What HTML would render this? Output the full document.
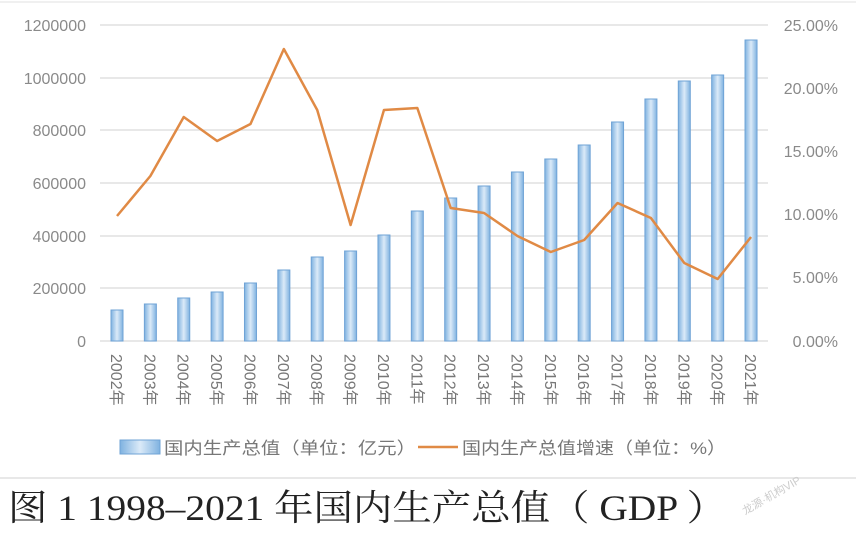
<!DOCTYPE html>
<html><head><meta charset="utf-8"><style>
body{margin:0;background:#fff;width:856px;height:528px;overflow:hidden}
</style></head><body>
<svg width="856" height="528" xmlns="http://www.w3.org/2000/svg" font-family="Liberation Sans, Noto Sans CJK SC, sans-serif">
<defs><linearGradient id="g" x1="0" x2="1"><stop offset="0" stop-color="#7fb2e0"/><stop offset="0.5" stop-color="#dbeaf8"/><stop offset="1" stop-color="#7fb2e0"/></linearGradient></defs>
<line x1="0" y1="2" x2="856" y2="2" stroke="#e0e0e0"/>
<g stroke="#d9d9d9" stroke-width="1.2">
<line x1="100" y1="25" x2="768" y2="25"/><line x1="100" y1="78" x2="768" y2="78"/><line x1="100" y1="130" x2="768" y2="130"/><line x1="100" y1="183" x2="768" y2="183"/><line x1="100" y1="236" x2="768" y2="236"/><line x1="100" y1="288" x2="768" y2="288"/><line x1="100" y1="341" x2="768" y2="341"/>
</g>
<g fill="#8a8a8a" font-size="16" text-anchor="end">
<text x="86" y="31">1200000</text><text x="86" y="84">1000000</text><text x="86" y="136">800000</text><text x="86" y="189">600000</text><text x="86" y="242">400000</text><text x="86" y="294">200000</text><text x="86" y="347">0</text>
</g>
<g fill="#8a8a8a" font-size="16" text-anchor="end">
<text x="838" y="31">25.00%</text><text x="838" y="94">20.00%</text><text x="838" y="157">15.00%</text><text x="838" y="220">10.00%</text><text x="838" y="283">5.00%</text><text x="838" y="347">0.00%</text>
</g>
<g id="bars" fill="url(#g)" stroke="#6fa3d6" stroke-width="1"></g>
<polyline id="ln" fill="none" stroke="#e08a45" stroke-width="2.5" stroke-linejoin="round"/>
<g id="yrs" fill="#777" font-size="16"></g>
<rect x="120" y="440" width="40" height="14" fill="url(#g)" stroke="#6fa3d6"/>
<text x="164" y="454" font-size="17" fill="#777" textLength="252" lengthAdjust="spacingAndGlyphs">国内生产总值（单位：亿元）</text>
<line x1="418" y1="447" x2="458" y2="447" stroke="#e08a45" stroke-width="2.5"/>
<text x="462" y="454" font-size="17" fill="#777" textLength="264" lengthAdjust="spacingAndGlyphs">国内生产总值增速（单位：%）</text>
<line x1="0" y1="478" x2="856" y2="478" stroke="#e8e8e8" stroke-width="2"/>
<text x="8" y="520" font-size="36" fill="#222" font-family="Liberation Serif, Noto Serif CJK SC, serif" textLength="718" lengthAdjust="spacingAndGlyphs">图 1 1998–2021 年国内生产总值（ GDP ）</text>
<text x="745" y="515" font-size="11" fill="#ccc" transform="rotate(-30 745 515)">龙源·机构VIP</text>
</svg>
<script>
var tops=[310,304,298,292,283,270,257,251,235,211,198,186,172,159,145,122,99,81,75,40];
var ly=[216,176,117,141,124,49,110,225,110,108,208,213,236,252,240,203,218,263,279,237];
var b=document.getElementById('bars'),y=document.getElementById('yrs'),pts=[],ns='http://www.w3.org/2000/svg';
for(var i=0;i<20;i++){var cx=117+i*33.37;
var r=document.createElementNS(ns,'rect');r.setAttribute('x',cx-6);r.setAttribute('y',tops[i]);r.setAttribute('width',12);r.setAttribute('height',341-tops[i]);b.appendChild(r);
pts.push(cx+','+ly[i]);
var t=document.createElementNS(ns,'text');t.setAttribute('transform','translate('+(cx-6)+',354) rotate(90)');t.textContent=(2002+i)+'年';y.appendChild(t);}
document.getElementById('ln').setAttribute('points',pts.join(' '));
</script>
</body></html>
